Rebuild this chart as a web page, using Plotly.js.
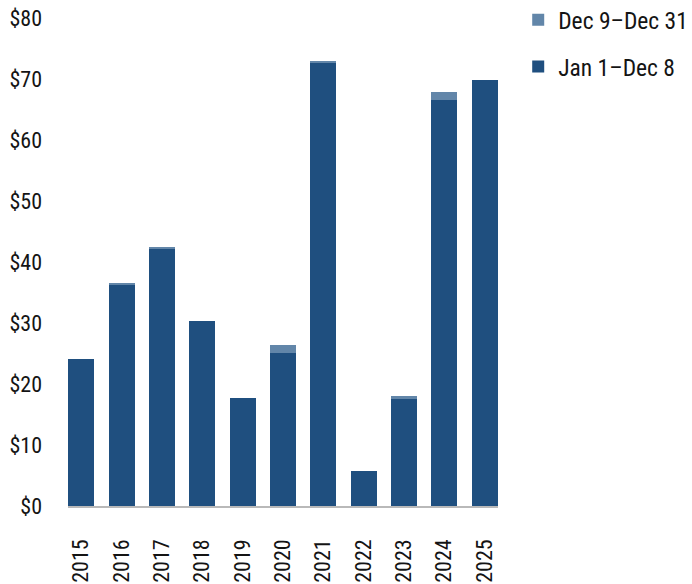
<!DOCTYPE html>
<html>
<head>
<meta charset="utf-8">
<script src="https://cdn.plot.ly/plotly-3.0.1.min.js"></script>
<style>
  html, body { margin: 0; padding: 0; background: #fff; }
  #chart { width: 692px; height: 584px; }
</style>
</head>
<body>
<div id="chart"></div>
<script>
// Annual totals in $ split by period of the year
const years = ['2015', '2016', '2017', '2018', '2019', '2020', '2021', '2022', '2023', '2024', '2025'];
const janToDec8 = [24.1, 36.2, 42.1, 30.3, 17.7, 25.1, 72.6, 5.7, 17.5, 66.6, 69.8];
const dec9ToDec31 = [0, 0.4, 0.4, 0, 0, 1.3, 0.4, 0, 0.5, 1.3, 0];
const yTickVals = [0, 10, 20, 30, 40, 50, 60, 70, 80];
const yTickText = ['$0', '$10', '$20', '$30', '$40', '$50', '$60', '$70', '$80'];

const FONT = '"Roboto Condensed", "Liberation Sans Narrow", "DejaVu Sans Condensed", "Arial Narrow", sans-serif';
const DARK = '#1f4f7f';
const LIGHT = '#6286a9';
const INK = '#141414';

const traces = [
  {
    type: 'bar', name: 'Jan 1\u2013Dec 8', x: years, y: janToDec8,
    marker: { color: DARK }, width: 0.64, legend: 'legend2'
  },
  {
    type: 'bar', name: 'Dec 9\u2013Dec 31', x: years, y: dec9ToDec31,
    marker: { color: LIGHT }, width: 0.64, legend: 'legend'
  }
];

const legendBase = {
  xref: 'paper', yref: 'paper', xanchor: 'left', yanchor: 'middle',
  bgcolor: 'rgba(0,0,0,0)', borderwidth: 0,
  font: { family: FONT, size: 23.5, color: INK },
  itemwidth: 30
};

const layout = {
  width: 692, height: 584,
  margin: { l: 68, r: 194, t: 18, b: 78, pad: 0, autoexpand: false },
  paper_bgcolor: '#fff', plot_bgcolor: '#fff',
  barmode: 'stack',
  showlegend: true,
  font: { family: FONT, size: 22, color: INK },
  xaxis: {
    type: 'category', range: [-0.33, 10.33],
    showline: true, linecolor: '#b9b9b9', linewidth: 1.5,
    showgrid: false, zeroline: false, ticks: '',
    tickangle: -90, ticklabelstandoff: 23,
    tickfont: { family: FONT, size: 22, color: INK }
  },
  yaxis: {
    range: [0, 80], tickvals: yTickVals, ticktext: yTickText,
    showline: false, showgrid: false, zeroline: false, ticks: '',
    ticklabelstandoff: 25,
    tickfont: { family: FONT, size: 22, color: INK }
  },
  legend: Object.assign({}, legendBase, { x: 1.047, y: 0.996 }),
  legend2: Object.assign({}, legendBase, { x: 1.047, y: 0.9 })
};

Plotly.newPlot('chart', traces, layout, { displayModeBar: false, staticPlot: true });
</script>
</body>
</html>
